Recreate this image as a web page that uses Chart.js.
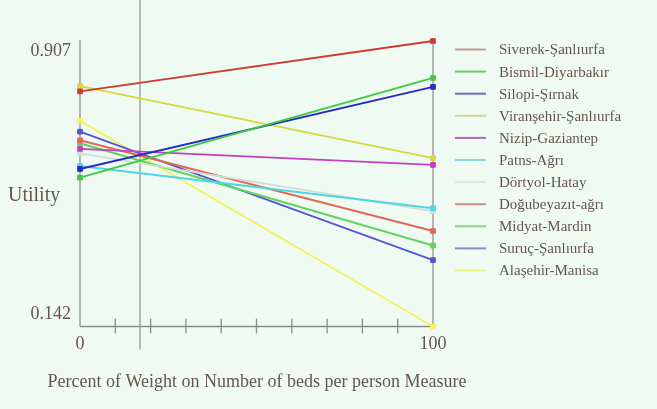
<!DOCTYPE html>
<html>
<head>
<meta charset="utf-8">
<script src="https://cdn.jsdelivr.net/npm/chart.js@4.4.1/dist/chart.umd.min.js"></script>
<style>
  html, body { margin: 0; padding: 0; background: #effbf2; }
  #wrap { position: relative; width: 657px; height: 409px; }
</style>
</head>
<body>
<div id="wrap"><canvas id="grafico" width="657" height="409"></canvas></div>
<script>
// Datos
const districts = ['Siverek-Şanlıurfa', 'Bismil-Diyarbakır', 'Silopi-Şırnak', 'Viranşehir-Şanlıurfa',
  'Nizip-Gaziantep', 'Patns-Ağrı', 'Dörtyol-Hatay', 'Doğubeyazıt-ağrı', 'Midyat-Mardin',
  'Suruç-Şanlıurfa', 'Alaşehir-Manisa'];
const weights = [0, 100];
const utilityAt0 = [0.772, 0.541, 0.564, 0.786, 0.618, 0.572, 0.606, 0.641, 0.633, 0.664, 0.693];
const utilityAt100 = [0.907, 0.808, 0.784, 0.593, 0.575, 0.459, 0.451, 0.398, 0.359, 0.320, 0.142];
const colores = ['#cf3b33', '#3fcb3f', '#2a2ac4', '#d9d640', '#c23fc6', '#4fd6e2', '#d2dbd4',
  '#e0685a', '#63d263', '#5656d6', '#f3f35c'];
const legendColors = ['#c99a92', '#6cc76c', '#6c6cc0', '#d6d68e', '#b565c0', '#7fdcdc', '#dde3de',
  '#d98c80', '#88d488', '#8a8cc6', '#eef080'];
const yTicks = [0.907, 0.142];
const xTickLabels = [0, 100];
const minorTicks = [10, 20, 30, 40, 50, 60, 70, 80, 90];
const currentWeight = 17;

const textColor = '#66554f';
const serif = '"Liberation Serif", "DejaVu Serif", serif';

const datasets = districts.map((d, i) => ({
  label: d,
  data: weights.map((w, j) => ({ x: w, y: j === 0 ? utilityAt0[i] : utilityAt100[i] })),
  borderColor: colores[i],
  backgroundColor: colores[i],
  borderWidth: 1.9,
  pointStyle: 'rect',
  pointRadius: 3.3,
  pointBorderWidth: 1,
  clip: false
}));

// Plugin para ejes, etiquetas y leyenda
const decor = {
  id: 'decor',
  beforeDatasetsDraw(chart) {
    const { ctx, chartArea: a, scales: { x, y } } = chart;
    ctx.save();
    ctx.lineCap = 'butt';
    // marco lateral
    ctx.strokeStyle = '#b4b6b4';
    ctx.lineWidth = 2;
    ctx.beginPath();
    ctx.moveTo(a.left, a.top - 1); ctx.lineTo(a.left, a.bottom);
    ctx.moveTo(a.right, a.top); ctx.lineTo(a.right, a.bottom);
    ctx.stroke();
    // eje inferior
    ctx.strokeStyle = '#8c8c8c';
    ctx.lineWidth = 1.3;
    ctx.beginPath();
    ctx.moveTo(a.left, a.bottom); ctx.lineTo(a.right, a.bottom);
    minorTicks.forEach(t => {
      const px = x.getPixelForValue(t);
      ctx.moveTo(px, a.bottom - 8); ctx.lineTo(px, a.bottom + 7);
    });
    ctx.stroke();
    // linea del peso actual
    const cx = x.getPixelForValue(currentWeight);
    ctx.strokeStyle = '#a2a4a2';
    ctx.lineWidth = 1.5;
    ctx.beginPath();
    ctx.moveTo(cx, 0); ctx.lineTo(cx, a.bottom + 23);
    ctx.stroke();
    ctx.restore();
  },
  afterDraw(chart) {
    const { ctx, chartArea: a, scales: { x, y } } = chart;
    ctx.save();
    ctx.fillStyle = textColor;
    // etiquetas eje Y
    ctx.font = '18px ' + serif;
    ctx.textAlign = 'right';
    ctx.textBaseline = 'middle';
    yTicks.forEach((t, i) => {
      const py = y.getPixelForValue(t) + (i === 0 ? 10 : -12);
      ctx.fillText(t.toFixed(3), a.left - 9, py);
    });
    ctx.font = '20px ' + serif;
    ctx.textAlign = 'left';
    ctx.fillText('Utility', 8, 196);
    // etiquetas eje X
    ctx.font = '18px ' + serif;
    ctx.textAlign = 'center';
    xTickLabels.forEach(t => ctx.fillText(String(t), x.getPixelForValue(t), a.bottom + 18));
    ctx.font = '18px ' + serif;
    ctx.fillText('Percent of Weight on Number of beds per person Measure', 257, 382);
    // leyenda
    ctx.font = '15px ' + serif;
    ctx.textAlign = 'left';
    ctx.lineWidth = 2;
    districts.forEach((d, i) => {
      const ly = 49.5 + i * 22.1;
      ctx.strokeStyle = legendColors[i];
      ctx.beginPath();
      ctx.moveTo(455, ly); ctx.lineTo(486, ly);
      ctx.stroke();
      ctx.fillText(d, 499, ly + 1);
    });
    ctx.restore();
  }
};

const ctx = document.getElementById('grafico').getContext('2d');
const myChart = new Chart(ctx, {
  type: 'line',
  data: { datasets: datasets },
  options: {
    responsive: false,
    animation: false,
    layout: { padding: { left: 80, top: 41, right: 224, bottom: 82.5 } },
    plugins: { legend: { display: false }, tooltip: { enabled: false } },
    scales: {
      x: { type: 'linear', min: 0, max: 100, display: false },
      y: { min: 0.142, max: 0.907, display: false }
    }
  },
  plugins: [decor]
});
</script>
</body>
</html>
